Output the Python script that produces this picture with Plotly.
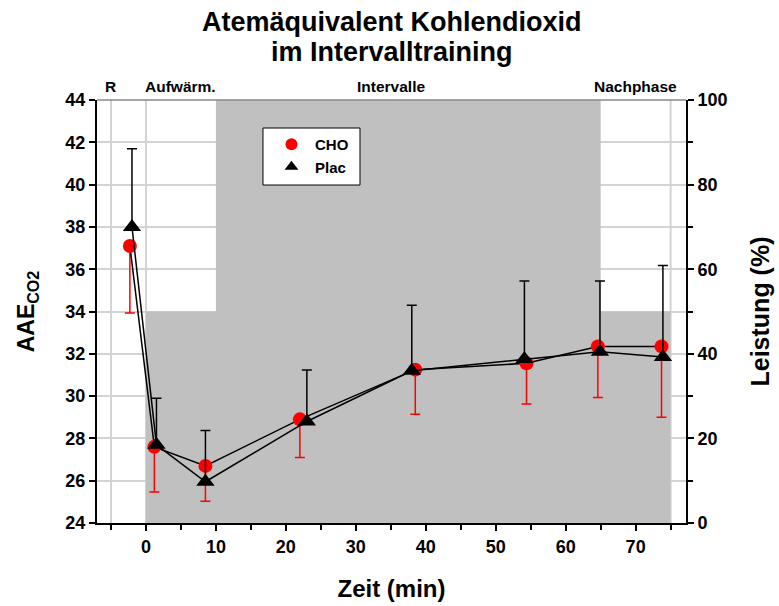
import plotly.graph_objects as go

# Data
t_cho = [-2.3, 1.2, 8.5, 22.0, 38.5, 54.4, 64.6, 73.7]
aae_cho = [37.1, 27.6, 26.7, 28.9, 31.25, 31.55, 32.35, 32.35]
sd_cho = [3.17, 2.13, 1.67, 1.8, 2.11, 1.92, 2.42, 3.35]

t_plac = [-2.0, 1.5, 8.5, 23.0, 38.0, 54.1, 64.9, 73.9]
aae_plac = [38.0, 27.7, 25.95, 28.8, 31.2, 31.75, 32.1, 31.85]
sd_plac = [3.7, 2.2, 2.42, 2.43, 3.1, 3.69, 3.34, 4.33]

# Leistung (%) profile (step)
t_load = [0, 10, 65, 75]
load = [50, 100, 50, 50]

phase_names = ["R", "Aufwärm.", "Intervalle", "Nachphase"]
phase_pos = [-5, 5, 35, 70]
phase_lines = [-5, 0, 75]

title_lines = ["Atemäquivalent Kohlendioxid", "im Intervalltraining"]

FONT = "Liberation Sans, Arial, sans-serif"
GRID = "#d3d3d3"

fig = go.Figure()

# Shaded Leistung area (primary y = right side)
fig.add_trace(go.Scatter(
    x=t_load, y=load, mode="lines", line=dict(shape="hv", width=0, color="#c0c0c0"),
    fill="tozeroy", fillcolor="#c0c0c0", yaxis="y", showlegend=False, hoverinfo="skip"))

# CHO
fig.add_trace(go.Scatter(
    x=t_cho, y=aae_cho, mode="lines+markers", yaxis="y2", name="CHO",
    line=dict(color="black", width=1.5),
    marker=dict(symbol="circle", size=14, color="#ff0000"),
    error_y=dict(type="data", symmetric=False, array=[0] * len(sd_cho), arrayminus=sd_cho,
                 color="#ff0000", thickness=1.5, width=5),
    showlegend=False))

# Plac
fig.add_trace(go.Scatter(
    x=t_plac, y=aae_plac, mode="lines+markers", yaxis="y2", name="Plac",
    line=dict(color="black", width=1.5),
    marker=dict(symbol="triangle-up", size=16, color="black"),
    error_y=dict(type="data", symmetric=False, array=sd_plac, arrayminus=[0] * len(sd_plac),
                 color="black", thickness=1.5, width=5),
    showlegend=False))

# Legend-only traces
fig.add_trace(go.Scatter(x=[None], y=[None], mode="markers", name="CHO", yaxis="y2",
                         marker=dict(symbol="circle", size=14, color="#ff0000")))
fig.add_trace(go.Scatter(x=[None], y=[None], mode="markers", name="Plac", yaxis="y2",
                         marker=dict(symbol="triangle-up", size=16, color="black")))

shapes = []
for xv in phase_lines:
    shapes.append(dict(type="line", xref="x", yref="paper", x0=xv, x1=xv, y0=0, y1=1,
                       line=dict(color=GRID, width=2), layer="below"))
shapes.append(dict(type="line", xref="paper", yref="paper", x0=0, x1=1, y0=1, y1=1,
                   line=dict(color="#888888", width=1.5), layer="above"))
# Legend box
shapes.append(dict(type="rect", xref="paper", yref="paper", x0=0.2818, x1=0.4465,
                   y0=0.799, y1=0.9338, fillcolor="white",
                   line=dict(color="black", width=1), layer="above"))

annotations = []
for name, pos in zip(phase_names, phase_pos):
    annotations.append(dict(x=pos, y=1.0, xref="x", yref="paper", yshift=3,
                            text=name, showarrow=False, yanchor="bottom",
                            font=dict(family=FONT, size=15.5, color="black", weight="bold")))

# Title lines as annotations
for line, yp in zip(title_lines, [1.1844, 1.1135]):
    annotations.append(dict(x=0.501, y=yp, xref="paper", yref="paper", xanchor="center",
                            yanchor="middle", showarrow=False, text="<b>" + line + "</b>",
                            font=dict(family=FONT, size=27, color="black")))

fig.update_layout(
    width=779, height=606,
    margin=dict(l=97, r=93, t=100, b=83, autoexpand=False),
    paper_bgcolor="white", plot_bgcolor="white",
    font=dict(family=FONT, color="black"),
    xaxis=dict(range=[-7, 77.2], tickmode="array", tickvals=[0, 10, 20, 30, 40, 50, 60, 70],
               automargin=False,
               ticks="outside", ticklen=6, tickwidth=1.5, tickcolor="black",
               minor=dict(tickmode="array", tickvals=[-5, 5, 15, 25, 35, 45, 55, 65, 75],
                          ticks="outside", ticklen=5, tickwidth=1.5, tickcolor="black"),
               showgrid=False, zeroline=False, showline=True, linecolor="black", linewidth=2,
               tickfont=dict(family=FONT, size=18, weight="bold"),
               title=dict(text="<b>Zeit (min)</b>", font=dict(family=FONT, size=24), standoff=25)),
    yaxis=dict(range=[0, 100], side="right", tickvals=[0, 20, 40, 60, 80, 100],
               automargin=False,
               ticks="outside", ticklen=6, tickwidth=1.5, tickcolor="black",
               showgrid=True, gridcolor=GRID, gridwidth=1.5,
               minor=dict(tickvals=[10, 30, 50, 70, 90], ticks="outside", ticklen=5,
                          tickwidth=1.5, tickcolor="black", showgrid=True,
                          gridcolor=GRID, gridwidth=1.5),
               zeroline=False, showline=True, linecolor="black", linewidth=2,
               tickfont=dict(family=FONT, size=18, weight="bold"),
               title=dict(text="<b>Leistung (%)</b>", font=dict(family=FONT, size=25), standoff=25)),
    yaxis2=dict(range=[24, 44], side="left", overlaying="y", dtick=2,
                automargin=False,
                ticks="outside", ticklen=6, tickwidth=1.5, tickcolor="black",
                showgrid=False, zeroline=False, showline=True, linecolor="black", linewidth=2,
                tickfont=dict(family=FONT, size=18, weight="bold"),
                title=dict(text="<b>AAE<sub>CO2</sub></b>", font=dict(family=FONT, size=23), standoff=24)),
    legend=dict(x=0.2903, y=0.934, xanchor="left", yanchor="top",
                bgcolor="rgba(0,0,0,0)", borderwidth=0, itemwidth=37,
                font=dict(family=FONT, size=15, weight="bold"), itemsizing="constant"),
    shapes=shapes,
    annotations=annotations,
)

fig.write_html("out.html")
